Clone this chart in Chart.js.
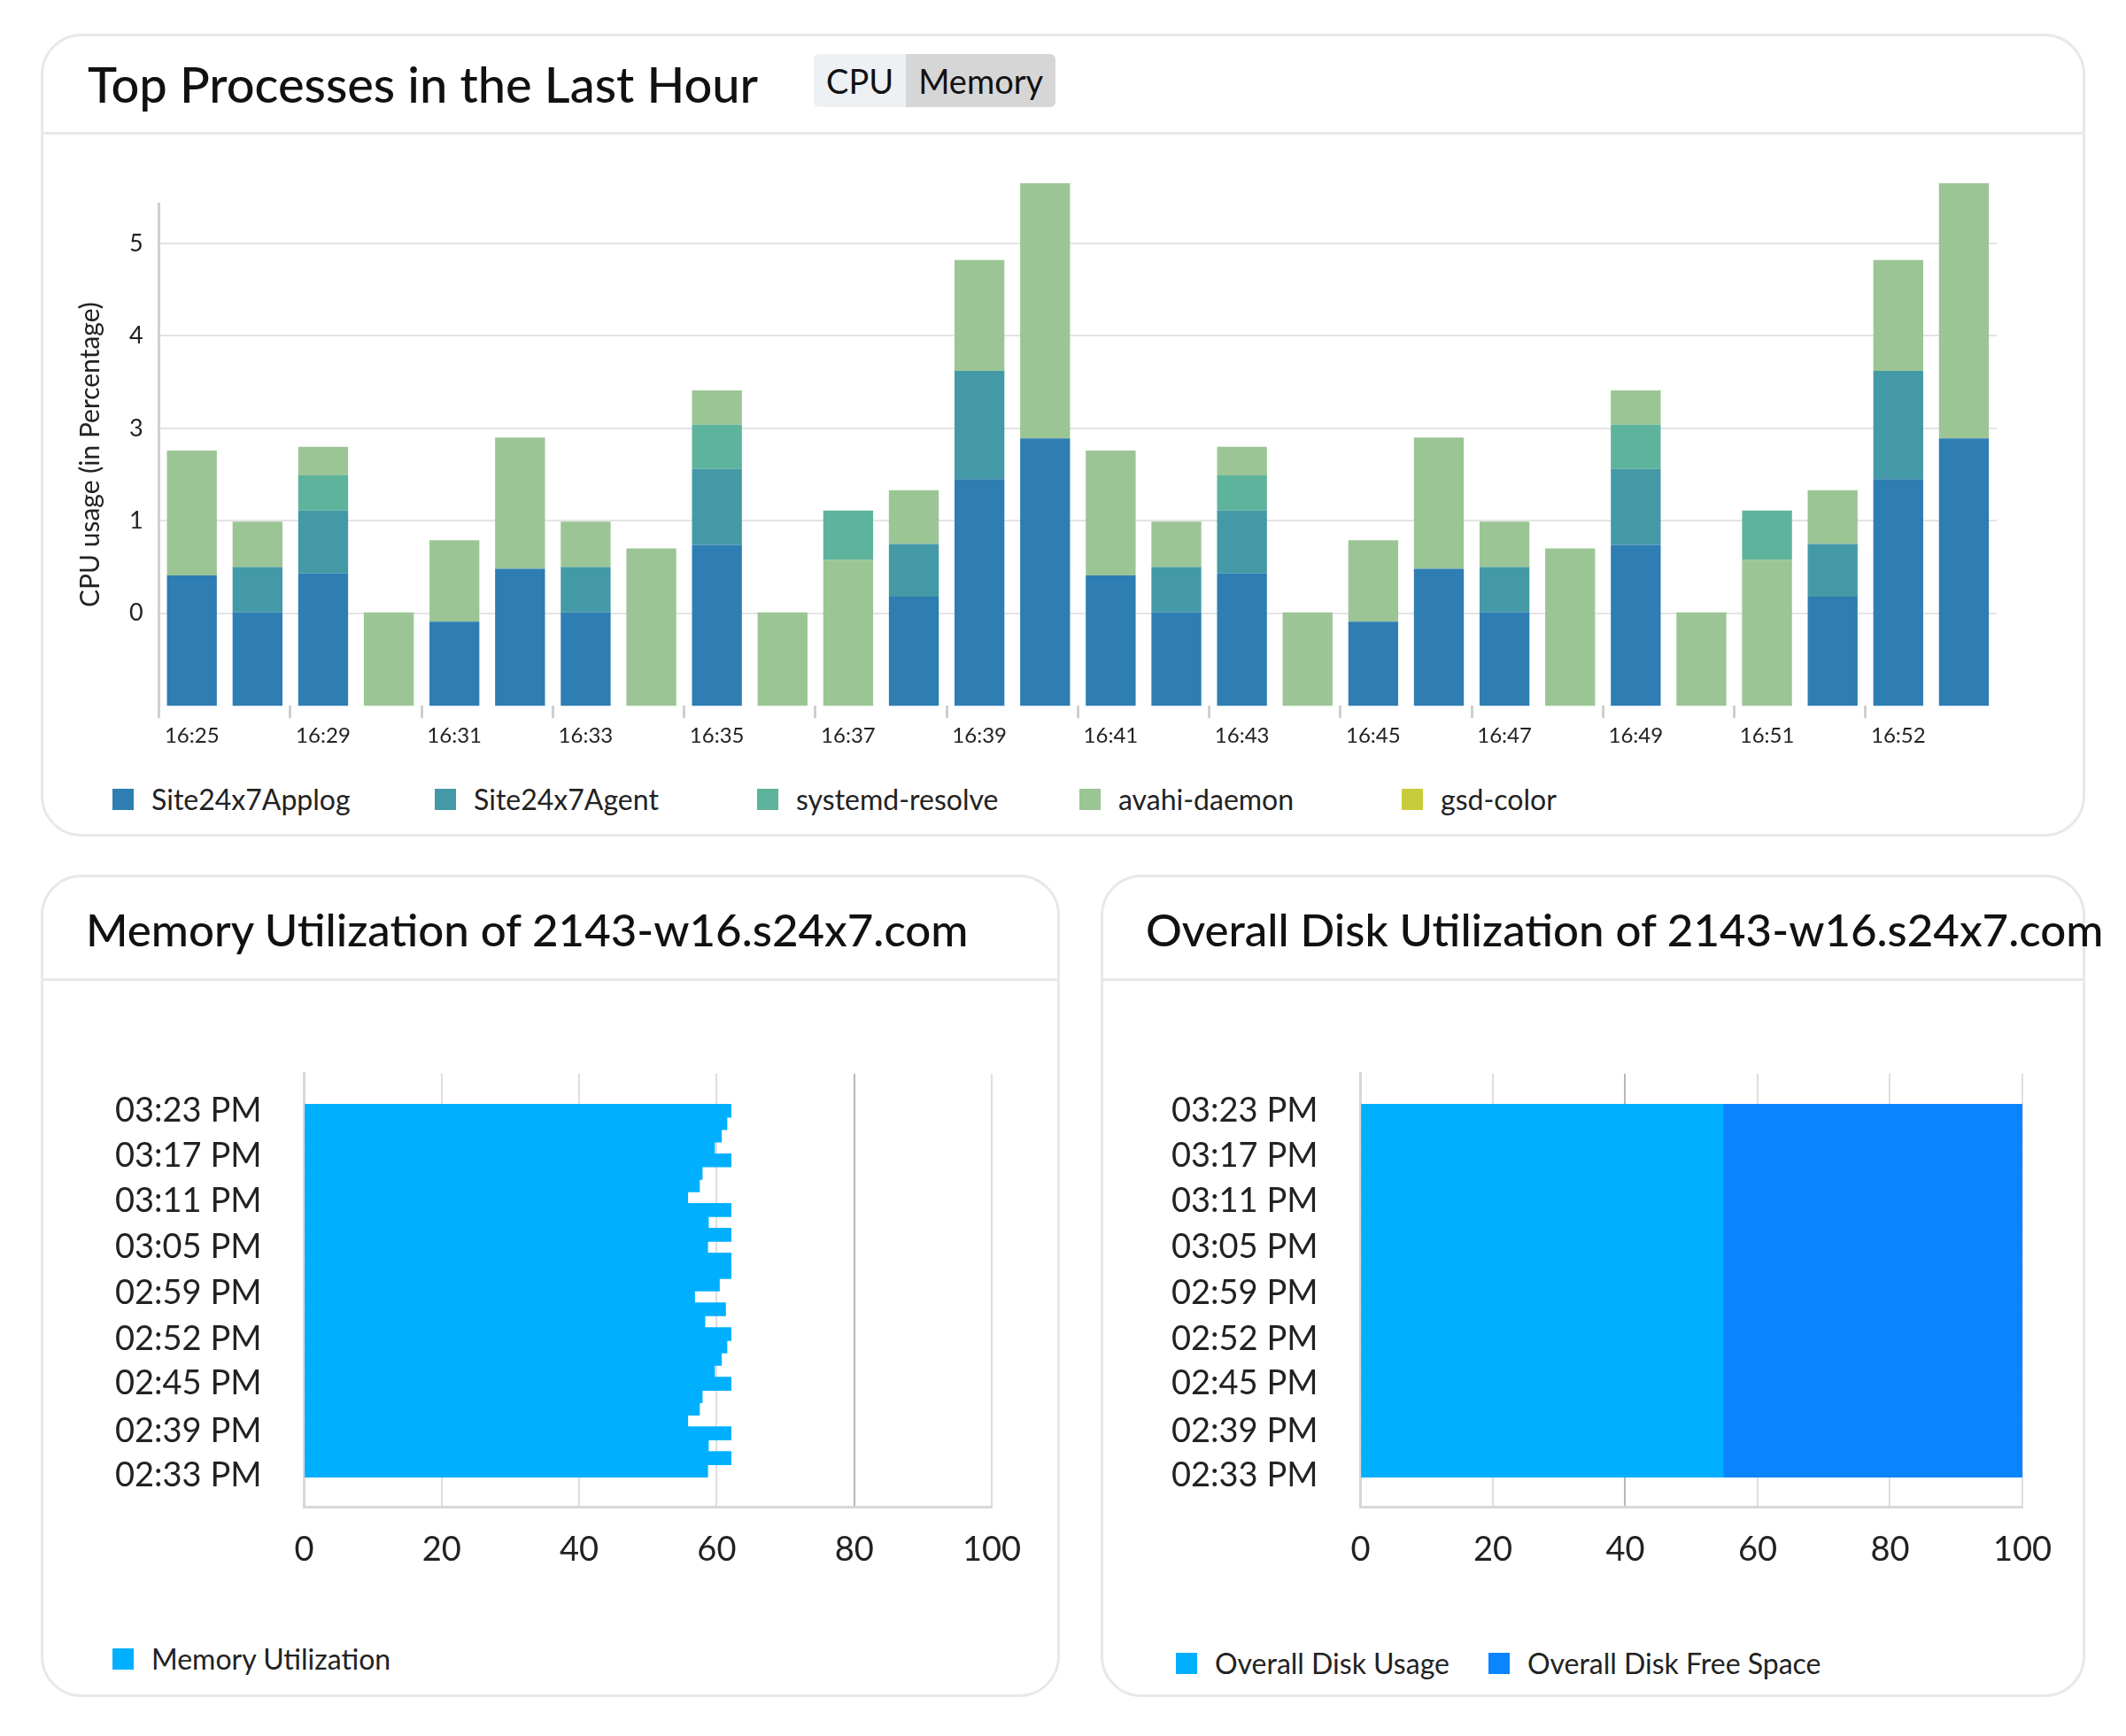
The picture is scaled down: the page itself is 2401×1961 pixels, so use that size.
<!DOCTYPE html>
<html>
<head>
<meta charset="utf-8">
<script src="https://cdn.jsdelivr.net/npm/chart.js@4.4.1/dist/chart.umd.min.js"></script>
<style>
  body { margin: 0; width: 2401px; height: 1961px; background: #fff; font-family: Lato, "Noto Sans", sans-serif; position: relative; color: #111; }
  .card { position: absolute; border: 3px solid #e8e8e8; border-radius: 46px; box-sizing: border-box; }
  .head { position: absolute; left: 0; right: 0; top: 0; border-bottom: 3px solid #e8e8e8; }
  .title { position: absolute; left: 50px; font-weight: 500; color: #111; white-space: nowrap; }
  .toggle { position: absolute; left: 870px; top: 20px; height: 60px; display: flex; font-size: 38px; border-radius: 6px; overflow: hidden; }
  .toggle div { padding: 0 14px; line-height: 60px; }
  canvas { position: absolute; }
  .legend { position: absolute; display: flex; font-size: 32px; color: #222; }
  .legend .item { display: flex; align-items: center; }
  .legend .box { width: 24px; height: 24px; margin-right: 20px; }
</style>
</head>
<body>
<div class="card" style="left:46px;top:38px;width:2309px;height:907px;">
  <div class="head" style="height:108px;"><div class="title" style="top:20px;font-size:56px;">Top Processes in the Last Hour</div>
    <div class="toggle"><div style="background:#eef1f4">CPU</div><div style="background:#d6d6d6">Memory</div></div>
  </div>
  <div class="legend" id="cpuLegend" style="left:78px;top:842px;"></div>
</div>
<canvas id="cpuChart" width="2309" height="730" style="left:46px;top:150px;"></canvas>

<div class="card" style="left:46px;top:988px;width:1151px;height:929px;">
  <div class="head" style="height:114px;"><div class="title" style="top:28px;font-size:51px;left:48px;">Memory Utilization of 2143-w16.s24x7.com</div></div>
  <div class="legend" id="memLegend" style="left:78px;top:863px;"></div>
</div>
<canvas id="memChart" width="1090" height="660" style="left:90px;top:1150px;"></canvas>

<div class="card" style="left:1243px;top:988px;width:1112px;height:929px;">
  <div class="head" style="height:114px;"><div class="title" style="top:28px;font-size:51px;left:48px;">Overall Disk Utilization of 2143-w16.s24x7.com</div></div>
  <div class="legend" id="diskLegend" style="left:82px;top:868px;"></div>
</div>
<canvas id="diskChart" width="1060" height="660" style="left:1283px;top:1150px;"></canvas>

<script>
// ---- CPU chart data (floating [low, high] segments, base is -1) ----
const cpuLabels = ['16:25','','16:29','','16:31','','16:33','','16:35','','16:37','','16:39','',
                   '16:41','','16:43','','16:45','','16:47','','16:49','','16:51','','16:52',''];
const cpuTickLabels = ['', '0', '1', '3', '4', '5'];
const applog = [[-1,0.41],[-1,0.01],[-1,0.43],null,[-1,-0.09],[-1,0.48],[-1,0.01],null,[-1,0.74],null,null,[-1,0.18],[-1,1.45],[-1,1.89],
                [-1,0.41],[-1,0.01],[-1,0.43],null,[-1,-0.09],[-1,0.48],[-1,0.01],null,[-1,0.74],null,null,[-1,0.18],[-1,1.45],[-1,1.89]];
const agent = [null,[0.01,0.50],[0.43,1.11],null,null,null,[0.01,0.50],null,[0.74,1.56],null,null,[0.18,0.75],[1.45,2.62],null,
               null,[0.01,0.50],[0.43,1.11],null,null,null,[0.01,0.50],null,[0.74,1.56],null,null,[0.18,0.75],[1.45,2.62],null];
const systemd = [null,null,[1.11,1.49],null,null,null,null,null,[1.56,2.04],null,[0.58,1.11],null,null,null,
                 null,null,[1.11,1.49],null,null,null,null,null,[1.56,2.04],null,[0.58,1.11],null,null,null];
const avahi = [[0.41,1.76],[0.50,0.99],[1.49,1.80],[-1,0.01],[-0.09,0.79],[0.48,1.90],[0.50,0.99],[-1,0.70],[2.04,2.41],[-1,0.01],[-1,0.58],[0.75,1.33],[2.62,3.82],[1.89,4.65],
               [0.41,1.76],[0.50,0.99],[1.49,1.80],[-1,0.01],[-0.09,0.79],[0.48,1.90],[0.50,0.99],[-1,0.70],[2.04,2.41],[-1,0.01],[-1,0.58],[0.75,1.33],[2.62,3.82],[1.89,4.65]];
const gsdColor = new Array(28).fill(null);
const cpuNames = ['Site24x7Applog','Site24x7Agent','systemd-resolve','avahi-daemon','gsd-color'];
const cpuColors = ['#2e7db3','#4499a6','#5db39b','#9bc595','#c8cc3a'];

// ---- Memory / disk data ----
const timeLabels = ['03:23 PM','03:17 PM','03:11 PM','03:05 PM','02:59 PM','02:52 PM','02:45 PM','02:39 PM','02:33 PM'];
const timeLabelPos = [0, 3.65, 7.29, 11.0, 14.67, 18.4, 22.0, 25.8, 29.4];
const memory = [62.1,61.5,60.7,59.7,62.1,57.9,57.5,55.8,62.1,58.8,62.1,58.7,62.1,62.1,60.4,
                56.8,61.3,58.3,62.1,61.5,60.7,59.7,62.1,57.9,57.5,55.8,62.1,58.8,62.1,58.7];
const diskUsage = [54.8,54.8,54.8,54.8,54.8,54.8,54.8,54.8,54.8,54.8,54.8,54.8,54.8,54.8,54.8,
                   54.8,54.8,54.8,54.8,54.8,54.8,54.8,54.8,54.8,54.8,54.8,54.8,54.8,54.8,54.8];
const diskFree = [45.2,45.2,45.2,45.2,45.2,45.2,45.2,45.2,45.2,45.2,45.2,45.2,45.2,45.2,45.2,
                  45.2,45.2,45.2,45.2,45.2,45.2,45.2,45.2,45.2,45.2,45.2,45.2,45.2,45.2,45.2];

Chart.defaults.font.family = 'Lato, "Noto Sans", sans-serif';
Chart.defaults.color = '#222';
Chart.defaults.animation = false;

function makeLegend(id, names, colors, width) {
    const el = document.getElementById(id);
    names.forEach((n, i) => {
        const d = document.createElement('div');
        d.className = 'item';
        if (width) d.style.width = width + 'px'; else d.style.marginRight = '44px';
        d.innerHTML = '<span class="box" style="background:' + colors[i] + '"></span>' + n;
        el.appendChild(d);
    });
}
makeLegend('cpuLegend', cpuNames, cpuColors, 364);
makeLegend('memLegend', ['Memory Utilization'], ['#00b0ff']);
makeLegend('diskLegend', ['Overall Disk Usage','Overall Disk Free Space'], ['#00b0ff','#0a84ff']);

const cpuSeries = [applog, agent, systemd, avahi, gsdColor];
new Chart(document.getElementById('cpuChart'), {
    type: 'bar',
    data: {
        labels: cpuLabels,
        datasets: cpuSeries.map((d, i) => ({
            label: cpuNames[i], data: d, backgroundColor: cpuColors[i],
            grouped: false, barPercentage: 0.76, categoryPercentage: 1, clip: false
        }))
    },
    options: {
        responsive: false,
        layout: { padding: { left: 30, right: 100, top: 80, bottom: 28 } },
        plugins: { legend: { display: false }, tooltip: { enabled: false } },
        scales: {
            x: {
                grid: { drawOnChartArea: false, tickLength: 14, tickWidth: 3,
                        color: ctx => (ctx.index % 2 === 0 ? '#cfcfcf' : 'rgba(0,0,0,0)') },
                border: { display: false },
                ticks: { autoSkip: false, maxRotation: 0, font: { size: 24 }, color: '#222', padding: 6 }
            },
            y: {
                min: -1, max: 4.43,
                afterBuildTicks: s => { s.ticks = [-1,0,1,2,3,4].map(v => ({ value: v })); },
                ticks: { font: { size: 27 }, color: '#222', padding: 18,
                         callback: (v) => cpuTickLabels[Math.round(v) + 1] },
                grid: { color: ctx => (ctx.tick && ctx.tick.value === -1 ? 'rgba(0,0,0,0)' : '#e4e4e4'), lineWidth: 2, drawTicks: false },
                border: { color: '#cfcfcf', width: 3 },
                title: { display: true, text: 'CPU usage (in Percentage)', font: { size: 30 }, color: '#222', padding: 8 }
            }
        }
    }
});

function timeAxis() {
    return {
        type: 'linear', reverse: true, min: -1.05, max: 30,
        afterBuildTicks: s => { s.ticks = timeLabelPos.map(v => ({ value: v })); },
        ticks: { font: { size: 38 }, color: '#222', padding: 40,
                 callback: (v, i) => timeLabels[i] },
        grid: { display: false },
        border: { color: '#d8d8d8', width: 3 }
    };
}
function valueAxis(darkLine) {
    return {
        min: 0, max: 100,
        afterBuildTicks: s => { s.ticks = [0,20,40,60,80,100].map(v => ({ value: v })); },
        ticks: { font: { size: 38 }, color: '#222', padding: 26 },
        grid: { drawTicks: false, lineWidth: 2,
                color: ctx => (ctx.tick && ctx.tick.value === darkLine ? '#b8b8b8' : '#dedede') },
        border: { color: '#d8d8d8', width: 3 }
    };
}

new Chart(document.getElementById('memChart'), {
    type: 'bar',
    data: {
        datasets: [{
            label: 'Memory Utilization',
            data: memory.map((v, i) => ({ x: v, y: i })),
            backgroundColor: '#00b0ff', barThickness: 15
        }]
    },
    options: {
        responsive: false, indexAxis: 'y',
        layout: { padding: { right: 60, top: 36, bottom: 10 } },
        plugins: { legend: { display: false }, tooltip: { enabled: false } },
        scales: { y: timeAxis(), x: valueAxis(80) }
    }
});

new Chart(document.getElementById('diskChart'), {
    type: 'bar',
    data: {
        datasets: [
            { label: 'Overall Disk Usage', data: diskUsage.map((v, i) => ({ x: v, y: i })), backgroundColor: '#00b0ff', barThickness: 15 },
            { label: 'Overall Disk Free Space', data: diskFree.map((v, i) => ({ x: v, y: i })), backgroundColor: '#0a84ff', barThickness: 15 }
        ]
    },
    options: {
        responsive: false, indexAxis: 'y',
        layout: { padding: { right: 58, top: 36, bottom: 10 } },
        plugins: { legend: { display: false }, tooltip: { enabled: false } },
        scales: {
            y: Object.assign(timeAxis(), { stacked: true }),
            x: Object.assign(valueAxis(40), { stacked: true })
        }
    }
});
</script>
</body>
</html>
